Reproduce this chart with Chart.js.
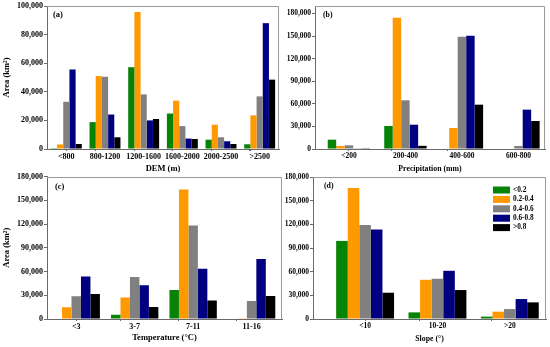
<!DOCTYPE html>
<html>
<head>
<meta charset="utf-8">
<script src="https://cdn.jsdelivr.net/npm/chart.js@4.4.1/dist/chart.umd.min.js"></script>
<style>
  html, body { margin: 0; padding: 0; background: #fff; }
  #page { position: relative; width: 550px; height: 347px; overflow: hidden; background: #fff; }
  .panel { position: absolute; }
</style>
</head>
<body>
<div id="page">
  <div class="panel" style="left:0;top:0;width:282px;height:176px"><canvas id="chartA"></canvas></div>
  <div class="panel" style="left:282px;top:0;width:268px;height:176px"><canvas id="chartB"></canvas></div>
  <div class="panel" style="left:0;top:170px;width:285px;height:177px"><canvas id="chartC"></canvas></div>
  <div class="panel" style="left:282px;top:170px;width:268px;height:177px"><canvas id="chartD"></canvas></div>
</div>
<script>
// classes shown in the legend
const classLabels = ['<0.2', '0.2-0.4', '0.4-0.6', '0.6-0.8', '>0.8'];
const classColors = ['#078307', '#ff9900', '#808080', '#000080', '#000000'];

// (a) DEM
const demCats = ['<800', '800-1200', '1200-1600', '1600-2000', '2000-2500', '>2500'];
const demC1 = [600, 18800, 57200, 24800, 6500, 3300];
const demC2 = [3200, 51000, 95800, 33800, 17000, 23500];
const demC3 = [33000, 50500, 38200, 16000, 8200, 36800];
const demC4 = [55600, 24100, 20000, 7300, 5400, 88000];
const demC5 = [3500, 8200, 21000, 7000, 3500, 48500];

// (b) precipitation
const preCats = ['<200', '200-400', '400-600', '600-800'];
const preC1 = [12400, 30600, 0, 0];
const preC2 = [4000, 174500, 27900, 0];
const preC3 = [4900, 64700, 149300, 4000];
const preC4 = [500, 32300, 150600, 52300];
const preC5 = [300, 4200, 58900, 37200];

// (c) temperature
const temCats = ['<3', '3-7', '7-11', '11-16'];
const temC1 = [500, 5500, 36600, 0];
const temC2 = [14700, 27300, 163600, 300];
const temC3 = [28600, 53000, 118200, 22700];
const temC4 = [53800, 42500, 63500, 75700];
const temC5 = [31500, 15100, 23500, 29000];

// (d) slope
const sloCats = ['<10', '10-20', '>20'];
const sloC1 = [99000, 8400, 3000];
const sloC2 = [166000, 49700, 9300];
const sloC3 = [119300, 51000, 12600];
const sloC4 = [113400, 61100, 25300];
const sloC5 = [33300, 36700, 21100];

const serif = '"Liberation Serif", "Times New Roman", serif';
const axisGray = '#6a6a6a';
const frameGray = '#9a9a9a';

// top and right sides of the plot box
const frame = {
    id: 'frame',
    beforeDatasetsDraw(chart) {
        const { ctx, chartArea: a } = chart;
        const t = Math.round(a.top) + 0.5;
        const r = Math.round(a.right) - 0.5;
        ctx.save();
        ctx.strokeStyle = frameGray;
        ctx.lineWidth = 1;
        ctx.beginPath();
        ctx.moveTo(a.left, t);
        ctx.lineTo(r, t);
        ctx.lineTo(r, a.bottom);
        ctx.stroke();
        ctx.restore();
    }
};

// "(a)", "(b)" ... in the top left corner
const panelTag = {
    id: 'panelTag',
    afterDraw(chart, args, opts) {
        if (!opts.text) return;
        const { ctx, chartArea } = chart;
        ctx.save();
        ctx.font = 'bold ' + opts.size + 'px ' + serif;
        ctx.fillStyle = '#000';
        ctx.textBaseline = 'middle';
        ctx.fillText(opts.text, chartArea.left + opts.dx, chartArea.top + opts.dy);
        ctx.restore();
    }
};

// legend box drawn inside the plot area
const boxLegend = {
    id: 'boxLegend',
    afterDraw(chart, args, opts) {
        if (!opts.show) return;
        const { ctx, chartArea } = chart;
        const x = chartArea.right - opts.fromRight;
        let y = chartArea.top + opts.fromTop;
        ctx.save();
        ctx.font = 'bold ' + opts.size + 'px ' + serif;
        ctx.textBaseline = 'middle';
        chart.data.datasets.forEach(ds => {
            ctx.fillStyle = ds.backgroundColor;
            ctx.fillRect(x, y - opts.boxH / 2, opts.boxW, opts.boxH);
            ctx.fillStyle = '#000';
            ctx.fillText(ds.label, x + opts.boxW + opts.gap, y);
            y += opts.rowH;
        });
        ctx.restore();
    }
};

function drawPanel(canvasId, p) {
    const canvas = document.getElementById(canvasId);
    const W = canvas.parentNode.clientWidth;
    const H = canvas.parentNode.clientHeight;
    const n = p.categories.length;

    const datasets = classLabels.map((label, k) => ({
        label: label,
        data: p.series[k].map((v, i) => ({ x: i, y: v })),
        backgroundColor: classColors[k],
        borderWidth: 0,
        // ticks sit every half category, so the sample size is half a category
        categoryPercentage: p.groupPct * 2,
        barPercentage: 1
    }));

    const tickFont = { family: serif, size: p.tickSize, weight: 'bold' };
    const titleFont = { family: serif, size: p.titleSize, weight: 'bold' };

    new Chart(canvas, {
        type: 'bar',
        data: { datasets: datasets },
        options: {
            responsive: true,
            maintainAspectRatio: false,
            animation: false,
            layout: { padding: { left: 0, top: p.area.top, right: W - p.area.right, bottom: 0 } },
            scales: {
                x: {
                    type: 'linear',
                    min: p.xMin,
                    max: p.xMax,
                    offset: false,
                    afterFit: s => { s.height = H - p.area.bottom; },
                    afterBuildTicks: s => {
                        const ticks = [];
                        for (let i = -1; i < n; i++) {
                            const b = i + 0.5;
                            if (b >= p.xMin && b <= p.xMax) ticks.push({ value: b });
                            if (i >= 0) ticks.push({ value: i });
                        }
                        s.ticks = ticks;
                    },
                    grid: {
                        drawOnChartArea: false,
                        drawTicks: true,
                        tickLength: 2,
                        tickColor: ctx => (ctx.tick && Number.isInteger(ctx.tick.value)) ? 'rgba(0,0,0,0)' : axisGray
                    },
                    border: { color: axisGray, width: 1 },
                    ticks: {
                        autoSkip: false,
                        maxRotation: 0,
                        padding: 1,
                        color: '#000',
                        font: tickFont,
                        callback: v => Number.isInteger(v) ? p.categories[v] : ''
                    },
                    title: {
                        display: true,
                        text: p.xTitle,
                        color: '#000',
                        font: titleFont,
                        padding: { top: 0, bottom: p.xTitlePad }
                    }
                },
                y: {
                    min: 0,
                    max: p.yMax,
                    afterFit: s => { s.width = p.area.left; },
                    afterBuildTicks: s => {
                        const ticks = [];
                        for (let v = 0; v <= p.yMax; v += p.yStep) ticks.push({ value: v });
                        s.ticks = ticks;
                    },
                    grid: { drawOnChartArea: false, drawTicks: true, tickLength: 3, tickColor: axisGray },
                    border: { color: axisGray, width: 1 },
                    ticks: {
                        padding: 1,
                        autoSkip: false,
                        color: '#000',
                        font: tickFont,
                        callback: v => v.toLocaleString('en-US')
                    },
                    title: {
                        display: !!p.yTitle,
                        text: p.yTitle || '',
                        color: '#000',
                        font: titleFont,
                        padding: { top: 1.5, bottom: 0 }
                    }
                }
            },
            plugins: {
                legend: { display: false },
                tooltip: { enabled: false },
                panelTag: { text: p.tag, size: p.titleSize, dx: p.tagDx, dy: p.tagDy },
                boxLegend: { show: !!p.legend, fromRight: 53, fromTop: 13, boxW: 17, boxH: 7, rowH: 9.4, gap: 3, size: 7.3 }
            }
        },
        plugins: [frame, panelTag, boxLegend]
    });
}

drawPanel('chartA', {
    categories: demCats,
    series: [demC1, demC2, demC3, demC4, demC5],
    area: { left: 47, top: 6, right: 279, bottom: 149 },
    xMin: -0.5, xMax: 5.5, groupPct: 0.8,
    yMax: 100000, yStep: 20000,
    xTitle: 'DEM (m)', xTitlePad: 2, yTitle: 'Area (km²)',
    tickSize: 8, titleSize: 8.5,
    tag: '(a)', tagDx: 6, tagDy: 9
});

drawPanel('chartB', {
    categories: preCats,
    series: [preC1, preC2, preC3, preC4, preC5],
    area: { left: 33, top: 6, right: 263, bottom: 149 },
    xMin: -0.6, xMax: 3.47, groupPct: 0.75,
    yMax: 190000, yStep: 30000,
    xTitle: 'Precipitation (mm)', xTitlePad: 2, yTitle: null,
    tickSize: 7.5, titleSize: 7.8,
    tag: '(b)', tagDx: 8, tagDy: 9
});

drawPanel('chartC', {
    categories: temCats,
    series: [temC1, temC2, temC3, temC4, temC5],
    area: { left: 47, top: 6.5, right: 282, bottom: 149 },
    xMin: -0.5, xMax: 3.52, groupPct: 0.81,
    yMax: 180000, yStep: 30000,
    xTitle: 'Temperature (°C)', xTitlePad: 4, yTitle: 'Area (km²)',
    tickSize: 8, titleSize: 8.5,
    tag: '(c)', tagDx: 8, tagDy: 10
});

drawPanel('chartD', {
    categories: sloCats,
    series: [sloC1, sloC2, sloC3, sloC4, sloC5],
    area: { left: 31, top: 7, right: 264, bottom: 149 },
    xMin: -0.72, xMax: 2.5, groupPct: 0.8,
    yMax: 180000, yStep: 30000,
    xTitle: 'Slope (°)', xTitlePad: 3, yTitle: null,
    tickSize: 7.5, titleSize: 7.8,
    tag: '(d)', tagDx: 11, tagDy: 8.7,
    legend: true
});
</script>
</body>
</html>
